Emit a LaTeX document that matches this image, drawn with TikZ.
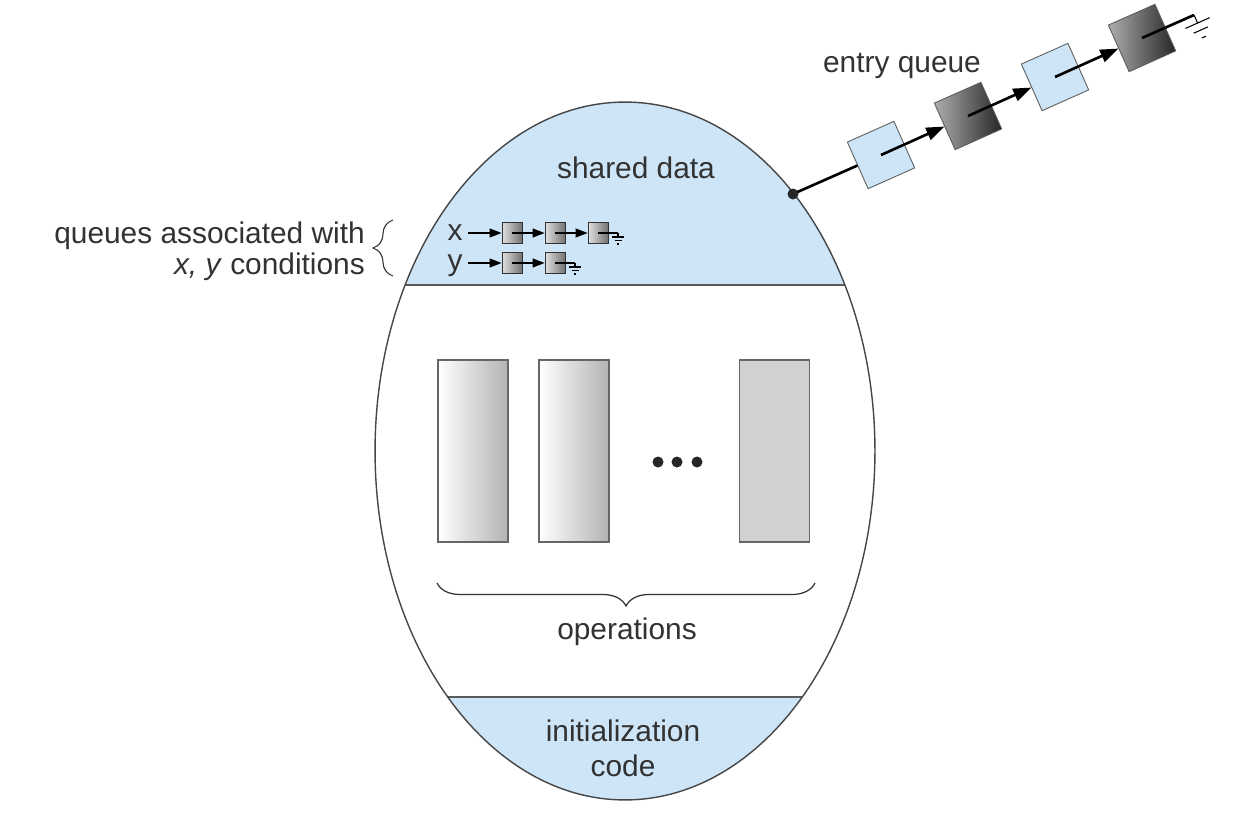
\documentclass[tikz,border=0pt]{standalone}
\usepackage{fontspec}
\setmainfont{Liberation Sans}
\usetikzlibrary{arrows.meta,decorations.pathreplacing}
\definecolor{shared}{RGB}{205,229,247}
\definecolor{ink}{RGB}{50,50,50}
\begin{document}
\begin{tikzpicture}[x=0.02cm,y=-0.02cm,
    lbl/.style={text=ink,font=\fontsize{17}{20}\selectfont},
    qbox/.style={draw=ink!80,line width=0.5pt,minimum size=1.02cm,inner sep=0pt,rotate=24},
    lightbox/.style={qbox,fill=shared},
    darkbox/.style={qbox,left color=black!32,right color=black!85},
    cell/.style={draw=ink,line width=0.5pt,minimum width=0.4cm,minimum height=0.42cm,inner sep=0pt,left color=black!12,right color=black!55},
    opbox/.style={draw=black!60,line width=0.8pt,minimum width=1.4cm,minimum height=3.64cm,inner sep=0pt},
    bigptr/.style={line width=1.5pt,-{Triangle[length=0.36cm,width=0.26cm]}},
    smallptr/.style={line width=0.6pt,-{Triangle[length=0.24cm,width=0.18cm]}},
    gnd/.pic={\draw[line width=0.6pt] (0,0) -- (0,4) (-6,4) -- (6,4) (-3.5,7.5) -- (3.5,7.5) (-1,11) -- (1,11);},
  ]
  \useasboundingbox (0,0) rectangle (1250,828);
  \begin{scope}
    \clip (625,451) ellipse [x radius=5cm, y radius=6.98cm];
    \fill[shared] (300,0) rectangle (950,285);
    \fill[shared] (300,697) rectangle (950,900);
    \draw[ink!80,line width=0.8pt] (300,285) -- (950,285) (300,697) -- (950,697);
  \end{scope}
  \draw[ink!90,line width=0.8pt] (625,451) ellipse [x radius=5cm, y radius=6.98cm];
  \node[lbl] (shared) at (636,168) {shared data};
  \node[lbl,inner sep=0pt,anchor=base] (xq) at (455,240) {x};
  \node[lbl,inner sep=0pt,anchor=base] (yq) at (455,270) {y};
  \node[cell] (x1) at (512,233) {};
  \node[cell] (x2) at (555,233) {};
  \node[cell] (x3) at (598,233) {};
  \node[cell] (y1) at (512,263) {};
  \node[cell] (y2) at (555,263) {};
  \draw[smallptr] ([xshift=0.1cm]xq.east |- x1) -- (x1.west);
  \draw[smallptr] (x1.center) -- (x2.west);
  \draw[smallptr] (x2.center) -- (x3.west);
  \draw[line width=0.6pt] (x3.center) -- ++(20,0) pic{gnd};
  \draw[smallptr] ([xshift=0.1cm]yq.east |- y1) -- (y1.west);
  \draw[smallptr] (y1.center) -- (y2.west);
  \draw[line width=0.6pt] (y2.center) -- ++(20,0) pic{gnd};
  \node[lbl,anchor=east,align=right,font=\fontsize{17}{17.5}\selectfont] (qlabel) at (371,251) {queues associated with\\\textit{x, y} conditions};
  \draw[ink,line width=0.6pt,decorate,decoration={brace,amplitude=0.4cm}] (393,276) -- (393,220);
  \node[opbox,left color=white,right color=black!30] (op1) at (473,451) {};
  \node[opbox,left color=white,right color=black!30] (op2) at (574,451) {};
  \node[opbox,fill=black!18] (op3) at (774.5,451) {};
  \foreach \dx in {658,677,697} \fill[black!85] (\dx,462) circle (0.11cm);
  \draw[ink,line width=0.7pt,decorate,decoration={brace,amplitude=0.46cm}] (815,583) -- (437,583);
  \node[lbl] (ops) at (627,632) {operations};
  \node[lbl,align=center] (init) at (623,748) {initialization\\code};
  \node[lbl] (entrylbl) at (902,66) {entry queue};
  \node[lightbox] (e1) at (881,155) {};
  \node[darkbox] (e2) at (968,116) {};
  \node[lightbox] (e3) at (1055,77) {};
  \node[darkbox] (e4) at (1142,38) {};
  \coordinate (entry) at (793,194);
  \draw[line width=1.5pt] (entry) -- (e1.west);
  \fill[black!85] (entry) circle (0.11cm);
  \draw[bigptr] (e1.center) -- (e2.west);
  \draw[bigptr] (e2.center) -- (e3.west);
  \draw[bigptr] (e3.center) -- (e4.west);
  \draw[line width=1.5pt] (e4.center) -- ++(52,-23) pic[rotate=24,scale=2.2]{gnd};
\end{tikzpicture}
\end{document}
